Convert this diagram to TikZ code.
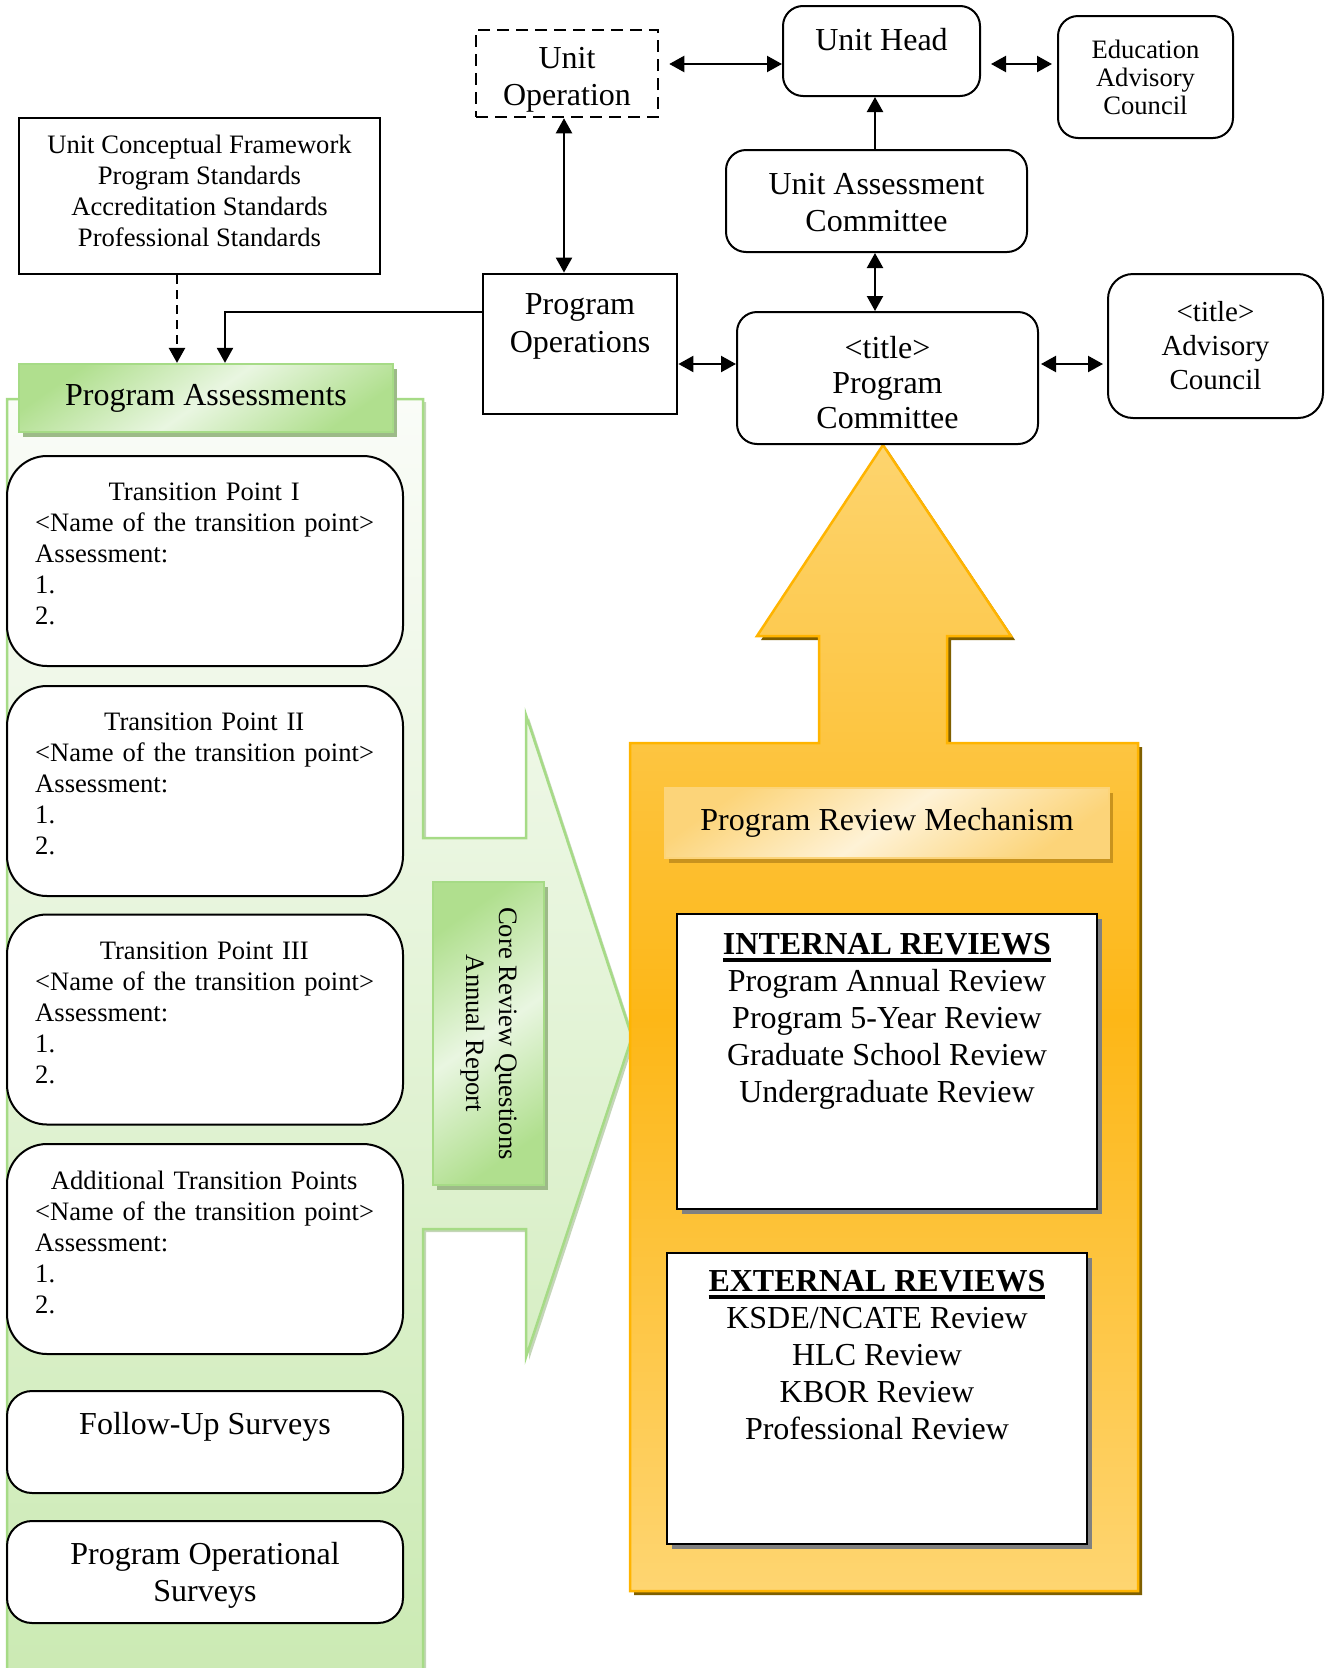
\documentclass[tikz,border=0pt]{standalone}
\usepackage{fontspec}
\setmainfont{Liberation Serif}
\usetikzlibrary{arrows.meta, positioning, shadows}

\definecolor{grnline}{HTML}{A6DB86}
\definecolor{grntop}{HTML}{FAFCF8}
\definecolor{grnbot}{HTML}{CBEAB3}
\definecolor{grndark}{HTML}{B0DF8E}
\definecolor{grnlite}{HTML}{E9F6E1}
\definecolor{grnshadow}{HTML}{9DBA88}
\definecolor{orgline}{HTML}{FFB400}
\definecolor{orgtop}{HTML}{FDD46E}
\definecolor{orgmid}{HTML}{FDB717}
\definecolor{orgbot}{HTML}{FED571}
\definecolor{orgshadow}{HTML}{7F5F00}
\definecolor{crmlite}{HTML}{FEF2D6}
\definecolor{crmdark}{HTML}{FCD479}
\definecolor{crmshadow}{HTML}{C8931E}

\newcommand{\fbig}{\fontsize{32}{37}\selectfont}
\newcommand{\fsmall}{\fontsize{26.6}{31}\selectfont}
\newcommand{\fmid}{\fontsize{29}{34}\selectfont}
\newcommand{\ulhead}[1]{\setbox0\hbox{\bfseries #1}\rlap{\rule[-8pt]{\wd0}{4pt}}\box0}

\begin{document}
\begin{tikzpicture}[x=1pt, y=-1pt,
  every node/.style={inner sep=0pt, align=center},
  arr/.style={line width=2.2pt, -{Triangle[length=15pt, width=16pt]}},
  dblarr/.style={line width=2.2pt, {Triangle[length=15pt, width=16pt]}-{Triangle[length=15pt, width=16pt]}},
  plainbox/.style={draw, line width=2pt, fill=white},
  roundbox/.style={plainbox, rounded corners=20pt},
  tpbox/.style={plainbox, rounded corners=40pt, minimum width=396pt, minimum height=210pt},
  surveybox/.style={plainbox, rounded corners=25pt, minimum width=396pt, minimum height=102pt},
  tptext/.style={anchor=north west, text width=370pt, align=left, font=\fsmall},
  greenhead/.style={draw=grnline, line width=2.2pt, top color=grndark, bottom color=grndark, middle color=grnlite, shading angle=35,
    drop shadow={shadow xshift=4pt, shadow yshift=-5pt, fill=grnshadow, opacity=1}},
  creamhead/.style={draw=crmdark, line width=2.2pt, top color=crmdark, bottom color=crmdark, middle color=crmlite, shading angle=35,
    drop shadow={shadow xshift=4pt, shadow yshift=-5pt, fill=crmshadow, opacity=1}},
  revbox/.style={plainbox, drop shadow={shadow xshift=5pt, shadow yshift=-5pt, fill=gray, opacity=1}}]
  \useasboundingbox (0,0) rectangle (1331,1668);

  % Green assessment column with arrow
  \path[draw=grnline, line width=2.5pt, top color=grntop, bottom color=grnbot,
    drop shadow={shadow xshift=3pt, shadow yshift=-3pt, fill=grnshadow, opacity=.6}]
    (7,1680) -- (7,399) -- (423,399) -- (423,838) -- (526,838) -- (526,715) -- (632,1037)
    -- (526,1357) -- (526,1229) -- (423,1229) -- (423,1680);

  % Orange review block with up arrow
  \path[draw=orgline, line width=2.5pt, top color=orgtop, bottom color=orgbot, middle color=orgmid,
    drop shadow={shadow xshift=4pt, shadow yshift=-4pt, fill=orgshadow, opacity=1}]
    (630,743) -- (819,743) -- (819,636) -- (757,636) -- (883,445) -- (1011,636) -- (947,636)
    -- (947,743) -- (1138,743) -- (1138,1591) -- (630,1591) -- cycle;

  % Standards and assessments
  \node[plainbox, minimum width=361pt, minimum height=156pt] (ucf) at (199.5,196) {};
  \node[font=\fsmall] (ucf-txt) at (199.5,191)
    {Unit Conceptual Framework\\Program Standards\\Accreditation Standards\\Professional Standards};
  \node[greenhead, minimum width=374pt, minimum height=68pt, font=\fbig] (pa) at (206,398) {Program Assessments};

  % Transition points
  \foreach \tp/\ty/\ttl in {tpone/561/Transition Point I, tptwo/791/Transition Point II,
      tpthree/1019.5/Transition Point III, tpfour/1249/Additional Transition Points} {
    \node[tpbox] (\tp) at (205,\ty) {};
    \node[tptext] (\tp-txt) at ([xshift=29pt, yshift=-28pt]\tp.north west)
      {\makebox[338pt]{\ttl}\\<Name of the transition point>\\Assessment:\\1.\\2.};
  }

  % Surveys
  \node[surveybox] (fus) at (205,1442) {};
  \node[font=\fbig] (fus-txt) at (205,1427) {Follow-Up Surveys};
  \node[surveybox] (pos) at (205,1572) {};
  \node[font=\fbig] (pos-txt) at (205,1575) {Program Operational\\Surveys};

  % Core review questions
  \node[greenhead, minimum width=111pt, minimum height=303pt] (cr) at (488.5,1033.5) {};
  \node[rotate=-90, font=\fontsize{26.6}{33}\selectfont] (cr-txt) at (cr.center) {Core Review Questions\\Annual Report};

  % Unit level
  \node[draw, dash pattern=on 12pt off 7pt, line width=2.5pt, minimum width=182pt, minimum height=87pt] (uo) at (567,73.5) {};
  \node[font=\fbig] (uo-txt) at (567,80) {Unit\\Operation};
  \node[roundbox, minimum width=197pt, minimum height=90pt] (uh) at (881.5,51) {};
  \node[font=\fbig] (uh-txt) at (881.5,40) {Unit Head};
  \node[roundbox, minimum width=175pt, minimum height=122pt, font=\fontsize{26.6}{28}\selectfont] (ea) at (1145.5,77) {Education\\Advisory\\Council};
  \node[roundbox, minimum width=301pt, minimum height=102pt] (uac) at (876.5,201) {};
  \node[font=\fbig] (uac-txt) at (876.5,203) {Unit Assessment\\Committee};

  % Program level
  \node[roundbox, minimum width=301pt, minimum height=132pt] (pc) at (887.5,378) {};
  \node[font=\fontsize{32}{35}\selectfont] (pc-txt) at (887.5,383) {<title>\\Program\\Committee};
  \node[roundbox, rounded corners=25pt, minimum width=215pt, minimum height=144pt, font=\fmid] (ac) at (1215.5,346) {<title>\\Advisory\\Council};
  \node[plainbox, line width=2.8pt, minimum width=194pt, minimum height=140pt] (po) at (580,344) {};
  \node[font=\fontsize{32}{38}\selectfont] (po-txt) at (580,326) {Program\\Operations};

  % Connectors
  \draw[dblarr, shorten <=10pt] (uo.east |- 0,64) -- (uh.west |- 0,64);
  \draw[dblarr, shorten <=10pt, shorten >=5pt] (uh.east |- 0,64) -- (ea.west |- 0,64);
  \draw[arr] (uac.north -| 875,0) -- (uh.south -| 875,0);
  \draw[dblarr] (uac.south -| 875,0) -- (pc.north -| 875,0);
  \draw[dblarr] (uo.south -| 564,0) -- (po.north -| 564,0);
  \draw[dblarr] (po.east |- 0,364) -- (pc.west |- 0,364);
  \draw[dblarr, shorten <=2pt, shorten >=4pt] (pc.east |- 0,364) -- (ac.west |- 0,364);
  \draw[arr] (po.west |- 0,312) -| (pa.north -| 225,0);
  \draw[arr, line width=2.5pt, dash pattern=on 9pt off 6pt] (ucf.south -| 177,0) -- (pa.north -| 177,0);

  % Review mechanism
  \node[creamhead, minimum width=444pt, minimum height=70pt, font=\fbig] (prm) at (887,823) {Program Review Mechanism};
  \node[revbox, minimum width=420pt, minimum height=295pt] (ir) at (887,1061.5) {};
  \node[anchor=north, font=\fbig] (ir-txt) at (887,933)
    {\ulhead{INTERNAL REVIEWS}\\Program Annual Review\\Program 5-Year Review\\Graduate School Review\\Undergraduate Review};
  \node[revbox, minimum width=420pt, minimum height=291pt] (er) at (877,1398.5) {};
  \node[anchor=north, font=\fbig] (er-txt) at (877,1270)
    {\ulhead{EXTERNAL REVIEWS}\\KSDE/NCATE Review\\HLC Review\\KBOR Review\\Professional Review};

\end{tikzpicture}
\end{document}
